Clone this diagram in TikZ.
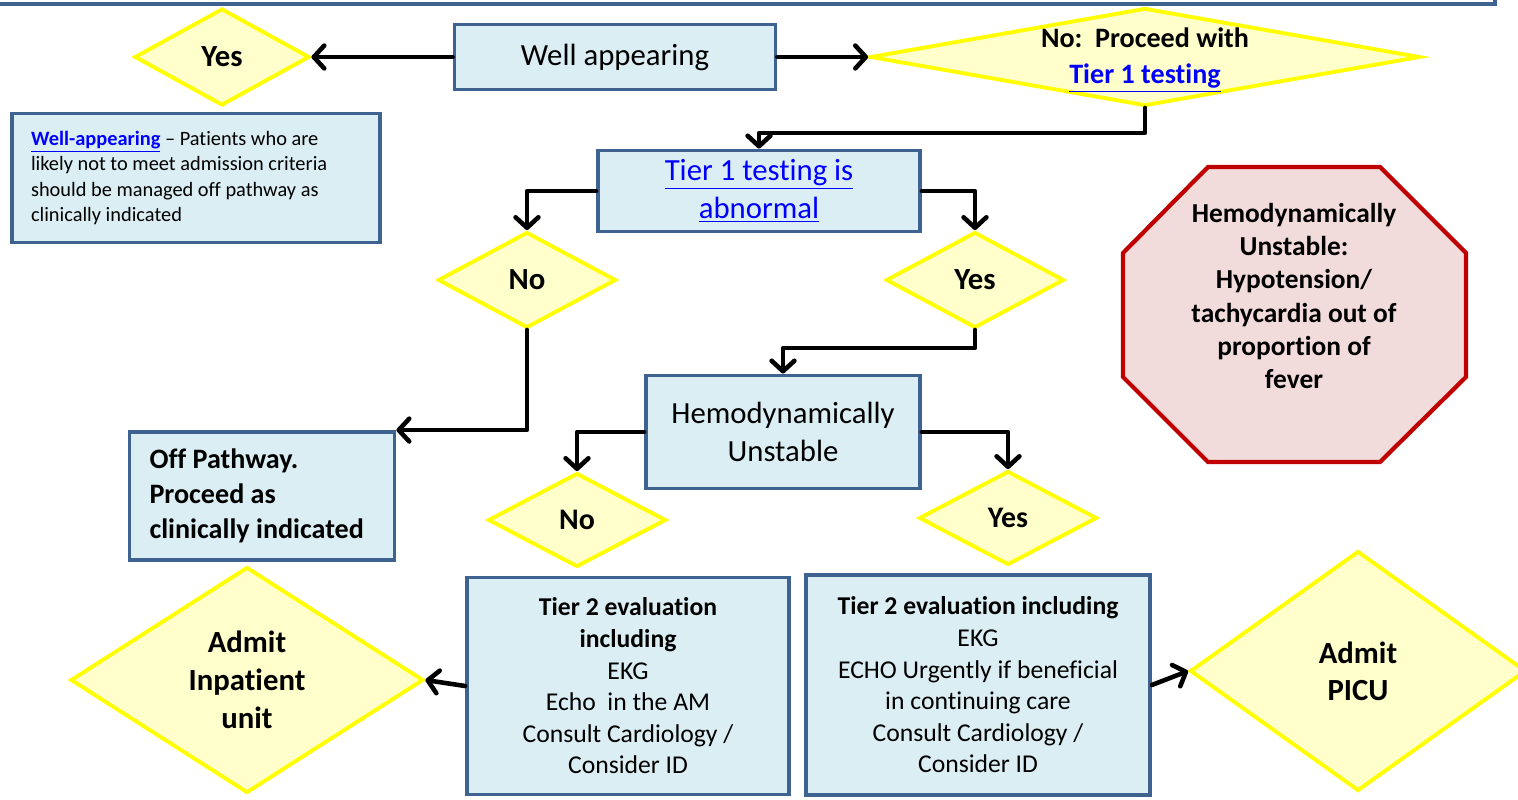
\documentclass[tikz,border=0pt]{standalone}
\usepackage{fontspec}
\setmainfont{Carlito}[Ligatures={NoCommon}]
\usepackage{xcolor}
\usetikzlibrary{shapes.geometric,arrows.meta,positioning,calc}
\definecolor{boxfill}{HTML}{DBEEF4}
\definecolor{boxline}{HTML}{3F6390}
\definecolor{decfill}{HTML}{FFFFCC}
\definecolor{decline}{HTML}{FFFF00}
\definecolor{stopfill}{HTML}{F2DCDB}
\definecolor{stopline}{HTML}{C00000}
\definecolor{linkblue}{HTML}{0000FF}
\newcommand{\lnk}[1]{\textcolor{linkblue}{\underline{#1}}}

\begin{document}
\begin{tikzpicture}[x=0.02cm, y=-0.02cm,
    box/.style={rectangle, draw=boxline, fill=boxfill, line width=2.2pt, align=center, inner sep=2pt},
    decision/.style={diamond, draw=decline, fill=decfill, line width=2.2pt, align=center, inner sep=0pt},
    flow/.style={line width=2.6pt, line cap=round, line join=round, -{Straight Barb[length=6pt,width=13pt,round]}}
]
    \useasboundingbox (0,0) rectangle (1518,800);

    % frame above
    \draw[boxline, line width=2.4pt] (-10,4) -- (1495,4) -- (1495,-10);

    % Top row
    \node[box, minimum width=6.42cm, minimum height=1.3cm, font=\fontsize{17.5}{21}\selectfont] (well) at (615,57) {Well appearing};
    \node[decision, aspect=1.8, minimum width=3.5cm, minimum height=1.94cm, font=\bfseries\fontsize{17.5}{21}\selectfont] (yes0) at (222,57) {Yes};
    \node[decision, aspect=5.7, minimum width=11cm, minimum height=1.96cm] (proceed) at (1145,57) {};
    \node[align=center, font=\bfseries\fontsize{16}{20.4}\selectfont] (proceedtxt) at ($(proceed)+(0,3)$) {No:\ \ Proceed with\\\lnk{Tier 1 testing}};
    \draw[flow] (well) -- (yes0);
    \draw[flow] (well) -- (proceed);

    % Note
    \node[box, text width=6.6cm, inner xsep=0.38cm, minimum height=2.58cm, align=flush left, font=\fontsize{11.6}{14.3}\selectfont] (note) at (196,178)
        {\textbf{\lnk{Well-appearing}} -- Patients who are likely not to meet admission criteria should be managed off pathway as clinically indicated};

    % Tier 1
    \node[box, minimum width=6.44cm, minimum height=1.62cm, font=\fontsize{17.5}{21.5}\selectfont] (tier1) at (759,191) {\lnk{Tier 1 testing is}\\\lnk{abnormal}};
    \draw[flow] (proceed.south) -- ++(0,25) -| (tier1.north);
    \node[decision, aspect=1.85, minimum width=3.56cm, minimum height=1.92cm, font=\bfseries\fontsize{17.5}{21}\selectfont] (no1) at (527,280) {No};
    \node[decision, aspect=1.85, minimum width=3.56cm, minimum height=1.92cm, font=\bfseries\fontsize{17.5}{21}\selectfont] (yes1) at (975,280) {Yes};
    \draw[flow] (tier1.west) -| (no1.north);
    \draw[flow] (tier1.east) -| (yes1.north);

    % Off pathway
    \node[box, text width=4.5cm, inner xsep=0.4cm, minimum height=2.56cm, align=flush left, font=\bfseries\fontsize{16}{19.8}\selectfont] (offpath) at (262,496)
        {Off Pathway.\\Proceed as\\clinically indicated};
    \draw[flow] (no1.south) |- (offpath.north east);

    % Hemodynamics
    \node[box, minimum width=5.48cm, minimum height=2.26cm, font=\fontsize{17.5}{21.5}\selectfont] (hemobox) at (783,432) {Hemodynamically\\Unstable};
    \draw[flow] (yes1.south) -- ++(0,18) -| (hemobox.north);
    \node[decision, aspect=1.9, minimum width=3.56cm, minimum height=1.88cm, font=\bfseries\fontsize{17}{20}\selectfont] (no2) at (577,520) {No};
    \node[decision, aspect=1.9, minimum width=3.56cm, minimum height=1.88cm, font=\bfseries\fontsize{17}{20}\selectfont] (yes2) at (1008,518) {Yes};
    \draw[flow] (hemobox.west) -| (no2.north);
    \draw[flow] (hemobox.east) -| (yes2.north);

    % Stop sign
    \filldraw[fill=stopfill, draw=stopline, line width=2.4pt]
        (1208,167) -- (1380,167) -- (1466,253) -- (1466,377) -- (1380,462) -- (1208,462) -- (1123,377) -- (1123,253) -- cycle;
    \node[align=center, font=\bfseries\fontsize{15.6}{19}\selectfont] (stop) at (1294,296)
        {Hemodynamically\\Unstable:\\Hypotension/\\tachycardia out of\\proportion of\\fever};

    % Tier 2
    \node[box, minimum width=6.44cm, minimum height=4.34cm, font=\fontsize{14.6}{18}\selectfont] (t2left) at (628,686)
        {\textbf{Tier 2 evaluation}\\\textbf{including}\\EKG\\Echo\ \ in the AM\\Consult Cardiology /\\Consider ID};
    \node[box, minimum width=6.88cm, minimum height=4.4cm, font=\fontsize{14.6}{18}\selectfont] (t2right) at (978,685)
        {\textbf{Tier 2 evaluation including}\\EKG\\ECHO Urgently if beneficial\\in continuing care\\Consult Cardiology /\\Consider ID};
    \node[decision, aspect=1.56, minimum width=7.06cm, minimum height=4.52cm, font=\bfseries\fontsize{17.5}{21.8}\selectfont] (admitin) at (247,680) {Admit\\Inpatient\\unit};
    \node[decision, aspect=1.4, minimum width=6.72cm, minimum height=4.8cm, font=\bfseries\fontsize{17.5}{21}\selectfont] (admitpicu) at (1358,671) {Admit\\PICU};
    \draw[flow] (t2left.west) -- (admitin.east);
    \draw[flow] (t2right.east) -- (admitpicu.west);
\end{tikzpicture}
\end{document}
